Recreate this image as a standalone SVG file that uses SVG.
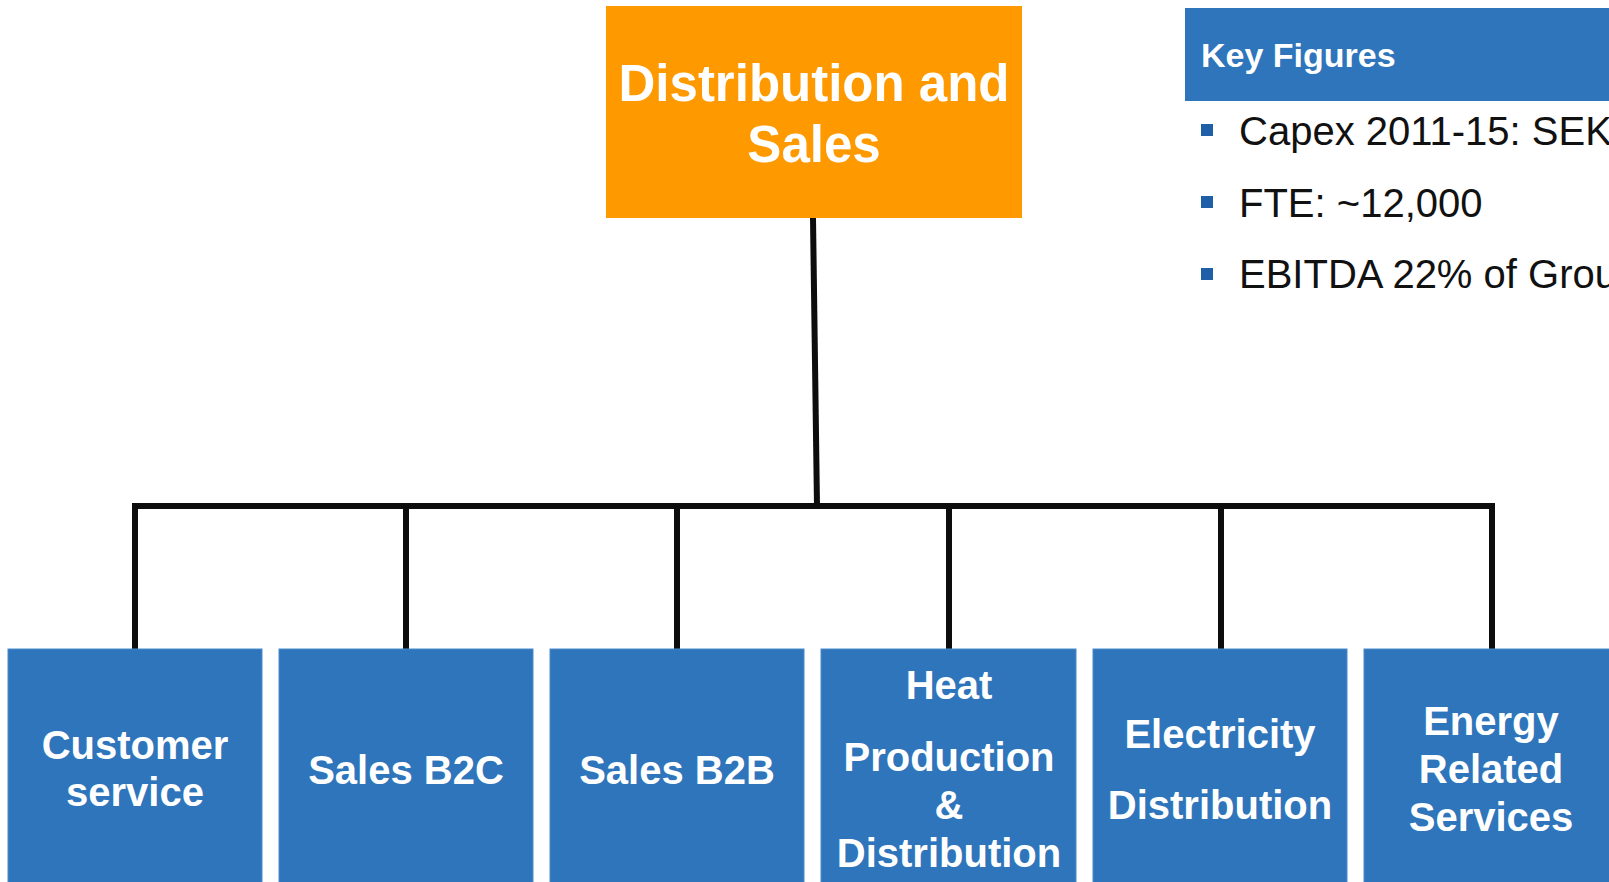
<svg xmlns="http://www.w3.org/2000/svg" width="1609" height="882" viewBox="0 0 1609 882">
  <style>
    .unit { fill: #2E75BB; stroke: #4A8CCC; stroke-width: 1; }
    .head { fill: #FF9900; }
    .label { font-family: "Liberation Sans", Arial, sans-serif; font-weight: bold; fill: #FFFFFF; text-anchor: middle; }
    .unit-label { font-size: 40px; }
    .fig { font-family: "Liberation Sans", Arial, sans-serif; font-size: 40px; fill: #111111; }
    .bullet { fill: #1F5FA8; }
    .wire { stroke: #0D0D0D; stroke-width: 6; fill: none; stroke-linecap: square; }
  </style>

  <rect width="1609" height="882" fill="#FFFFFF"/>

  <!-- connectors -->
  <g id="connectors">
    <line class="wire" x1="813" y1="218" x2="817" y2="506"/>
    <polyline class="wire" points="135,649 135,506 1492,506 1492,649"/>
    <line class="wire" x1="406" y1="506" x2="406" y2="649"/>
    <line class="wire" x1="677" y1="506" x2="677" y2="652"/>
    <line class="wire" x1="949" y1="506" x2="949" y2="649"/>
    <line class="wire" x1="1221" y1="506" x2="1221" y2="649"/>
  </g>

  <!-- top-level division -->
  <g id="distribution-and-sales">
    <rect class="head" x="606" y="6" width="416" height="212"/>
    <text class="label" x="814" y="101" font-size="51">Distribution and</text>
    <text class="label" x="814" y="162" font-size="51">Sales</text>
  </g>

  <!-- key figures panel -->
  <g id="key-figures">
    <rect x="1185" y="8" width="430" height="93" fill="#2E75BB"/>
    <text x="1201" y="67" font-family="Liberation Sans, Arial, sans-serif" font-weight="bold" font-size="34" fill="#FFFFFF">Key Figures</text>
    <rect class="bullet" x="1201" y="124" width="12" height="12"/>
    <text class="fig" x="1239" y="145">Capex 2011-15: SEK</text>
    <rect class="bullet" x="1201" y="196" width="12" height="12"/>
    <text class="fig" x="1239" y="216.5">FTE: ~12,000</text>
    <rect class="bullet" x="1201" y="268" width="12" height="12"/>
    <text class="fig" x="1239" y="288">EBITDA 22% of Grou</text>
  </g>

  <!-- business units -->
  <g id="customer-service">
    <rect class="unit" x="8" y="649" width="254" height="240"/>
    <text class="label unit-label" x="135" y="759">Customer</text>
    <text class="label unit-label" x="135" y="806">service</text>
  </g>
  <g id="sales-b2c">
    <rect class="unit" x="279" y="649" width="254" height="240"/>
    <text class="label unit-label" x="406" y="784">Sales B2C</text>
  </g>
  <g id="sales-b2b">
    <rect class="unit" x="550" y="649" width="254" height="240"/>
    <text class="label unit-label" x="677" y="784">Sales B2B</text>
  </g>
  <g id="heat-production-distribution">
    <rect class="unit" x="821" y="649" width="255" height="240"/>
    <text class="label unit-label" x="949" y="699">Heat</text>
    <text class="label unit-label" x="949" y="771">Production</text>
    <text class="label unit-label" x="949" y="819">&amp;</text>
    <text class="label unit-label" x="949" y="867">Distribution</text>
  </g>
  <g id="electricity-distribution">
    <rect class="unit" x="1093" y="649" width="254" height="240"/>
    <text class="label unit-label" x="1220" y="747.5">Electricity</text>
    <text class="label unit-label" x="1220" y="819">Distribution</text>
  </g>
  <g id="energy-related-services">
    <rect class="unit" x="1364" y="649" width="254" height="240"/>
    <text class="label unit-label" x="1491" y="735">Energy</text>
    <text class="label unit-label" x="1491" y="783">Related</text>
    <text class="label unit-label" x="1491" y="831">Services</text>
  </g>
</svg>
